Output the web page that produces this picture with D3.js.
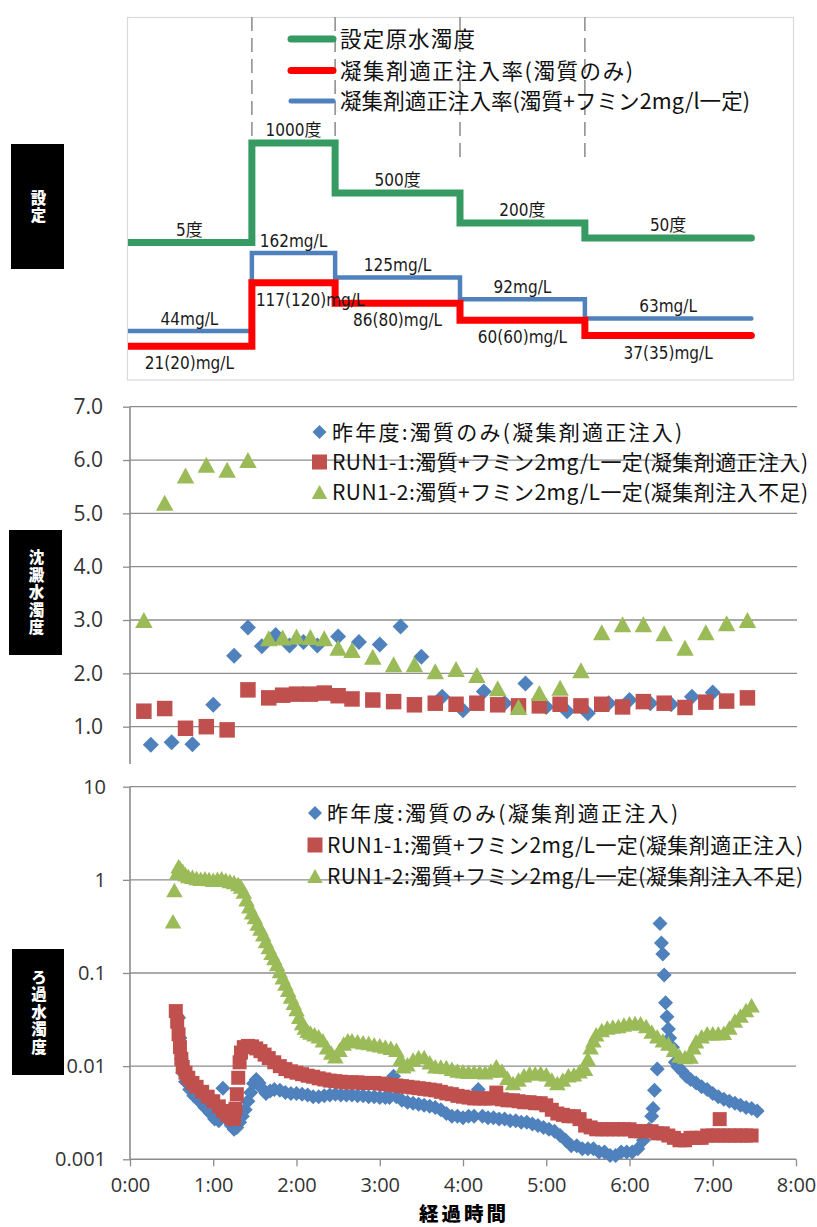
<!DOCTYPE html>
<html>
<head>
<meta charset="utf-8">
<script src="https://cdn.jsdelivr.net/npm/d3@7"></script>
<style>
  html, body { margin: 0; padding: 0; background: #fff; }
  svg { display: block; }
</style>
</head>
<body>
<svg id="chart" width="817" height="1227"></svg>
<script>
// ---------------- data ----------------
// operating schedule (hours) and the set values for each phase
const stepHours = [0, 1.5, 2.5, 4, 5.5, 7.5];
const rawTurbidity = [5, 1000, 500, 200, 50];          // 度
const doseWithHumic = [44, 162, 125, 92, 63];          // mg/L
const doseTurbOnly = [21, 117, 86, 60, 37];            // mg/L
const rawTurbLabels = ["5度", "1000度", "500度", "200度", "50度"];
const doseWithHumicLabels = ["44mg/L", "162mg/L", "125mg/L", "92mg/L", "63mg/L"];
const doseTurbOnlyLabels = ["21(20)mg/L", "117(120)mg/L", "86(80)mg/L", "60(60)mg/L", "37(35)mg/L"];
const phaseHours = [1.5, 2.5, 4, 5.5];
const scheduleLegend = ["設定原水濁度", "凝集剤適正注入率(濁質のみ)", "凝集剤適正注入率(濁質+フミン2mg/l一定)"];

const seriesNames = [
  "昨年度:濁質のみ(凝集剤適正注入)",
  "RUN1-1:濁質+フミン2mg/L一定(凝集剤適正注入)",
  "RUN1-2:濁質+フミン2mg/L一定(凝集剤注入不足)"
];

// settled water turbidity [elapsed minutes, 度]
const settledPrev = [[15,0.66],[30,0.71],[45,0.67],[60,1.41],[75,2.33],[85,2.86],[95,2.51],[105,2.72],[115,2.52],[125,2.59],[135,2.52],[150,2.69],[165,2.59],[180,2.54],[195,2.88],[210,2.31],[225,1.56],[240,1.31],[255,1.66],[270,1.44],[285,1.81],[300,1.37],[315,1.29],[330,1.25],[345,1.44],[360,1.5],[375,1.44],[390,1.42],[405,1.56],[420,1.64]];
const settledRun11 = [[10,1.29],[25,1.34],[40,0.97],[55,1.0],[70,0.94],[85,1.69],[100,1.54],[110,1.59],[120,1.61],[130,1.61],[140,1.63],[150,1.58],[160,1.52],[175,1.5],[190,1.47],[205,1.41],[220,1.44],[235,1.42],[250,1.44],[265,1.41],[280,1.39],[295,1.39],[310,1.42],[325,1.39],[340,1.42],[355,1.37],[370,1.47],[385,1.44],[400,1.36],[415,1.46],[430,1.48],[445,1.54]];
const settledRun12 = [[10,3.0],[25,5.2],[40,5.71],[55,5.91],[70,5.82],[85,6.0],[100,2.66],[110,2.67],[120,2.69],[130,2.68],[140,2.66],[150,2.48],[160,2.44],[175,2.31],[190,2.17],[205,2.17],[220,2.04],[235,2.08],[250,1.97],[265,1.72],[280,1.37],[295,1.63],[310,1.73],[325,2.06],[340,2.77],[355,2.92],[370,2.92],[385,2.75],[400,2.48],[415,2.77],[430,2.94],[445,3.0]];

// filtered water turbidity [elapsed minutes, 度]
const filteredPrev = [[35,0.033],[36,0.02],[37,0.012],[38,0.0085],[40,0.0068],[43,0.0056],[46,0.0048],[50,0.0042],[54,0.0036],[58,0.0031],[61,0.0027],[64,0.0026],[67,0.0058],[69,0.003],[71,0.0026],[73,0.0023],[75,0.0021],[77,0.0022],[79,0.0025],[81,0.0029],[83,0.0034],[85,0.0042],[87,0.0052],[89,0.0065],[91,0.0072],[93,0.0066],[95,0.0058],[98,0.0051],[101,0.0054],[104,0.0056],[108,0.0055],[112,0.0052],[116,0.0051],[120,0.0051],[124,0.005],[128,0.0049],[132,0.0047],[136,0.0047],[140,0.0048],[144,0.0049],[148,0.005],[152,0.0049],[156,0.0049],[160,0.0049],[164,0.0048],[168,0.0048],[172,0.0047],[176,0.0047],[180,0.0046],[184,0.0046],[187,0.0046],[190,0.0078],[192,0.0047],[196,0.0043],[200,0.0041],[204,0.004],[208,0.0039],[212,0.0038],[216,0.0037],[220,0.0036],[224,0.0034],[228,0.0031],[232,0.0029],[236,0.0029],[240,0.0028],[244,0.0029],[248,0.0029],[251,0.0056],[254,0.0029],[258,0.0028],[262,0.0028],[266,0.0027],[270,0.0027],[274,0.0026],[278,0.0026],[282,0.0025],[286,0.0025],[290,0.0024],[294,0.0023],[298,0.0022],[302,0.0021],[306,0.002],[310,0.0018],[314,0.0016],[318,0.0014],[322,0.0014],[326,0.0013],[330,0.0013],[334,0.0013],[338,0.0012],[342,0.0012],[346,0.0011],[350,0.0011],[354,0.0012],[358,0.0012],[362,0.0012],[366,0.0013],[370,0.0016],[374,0.0021],[376,0.0029],[377,0.0035],[378,0.0055],[380,0.0093],[382,0.34],[383,0.21],[384,0.16],[385,0.095],[386,0.048],[387,0.034],[388,0.025],[389,0.02],[391,0.016],[393,0.011],[395,0.0098],[398,0.0088],[401,0.0078],[404,0.0072],[408,0.0066],[412,0.006],[416,0.0056],[420,0.0051],[424,0.0047],[428,0.0044],[432,0.0042],[436,0.004],[440,0.0038],[444,0.0036],[448,0.0035],[452,0.0033]];
const filteredRun11 = [[33,0.039],[34,0.03],[35,0.022],[36,0.016],[37,0.012],[38,0.0098],[40,0.0085],[42,0.0075],[45,0.0066],[48,0.006],[52,0.0053],[56,0.0047],[60,0.0042],[64,0.0037],[67,0.0033],[70,0.003],[73,0.0028],[75,0.0027],[76,0.0035],[77,0.005],[78,0.0075],[79,0.011],[80,0.014],[82,0.016],[85,0.0165],[88,0.0163],[91,0.0155],[94,0.0145],[97,0.0133],[100,0.0122],[104,0.011],[108,0.01],[112,0.0093],[116,0.0088],[120,0.0085],[124,0.0082],[128,0.0079],[132,0.0077],[136,0.0074],[140,0.0072],[144,0.007],[148,0.0069],[152,0.0068],[156,0.0067],[160,0.0067],[164,0.0067],[168,0.0066],[172,0.0066],[176,0.0066],[180,0.0065],[184,0.0064],[188,0.0063],[192,0.0062],[196,0.0061],[200,0.006],[204,0.0059],[208,0.0058],[212,0.0057],[216,0.0056],[220,0.0055],[224,0.0053],[228,0.0051],[232,0.005],[236,0.0048],[240,0.0047],[244,0.0046],[248,0.0045],[252,0.0045],[256,0.0045],[260,0.0045],[264,0.0052],[268,0.0044],[272,0.0043],[276,0.0043],[280,0.0042],[284,0.0041],[288,0.0041],[292,0.004],[296,0.004],[300,0.0038],[304,0.0034],[308,0.0031],[312,0.003],[316,0.0029],[320,0.0029],[324,0.0027],[328,0.0023],[332,0.0022],[336,0.0021],[340,0.0021],[344,0.0021],[348,0.0021],[352,0.0021],[356,0.0021],[360,0.0021],[364,0.002],[368,0.002],[372,0.002],[376,0.002],[380,0.0019],[384,0.0019],[388,0.0018],[392,0.0017],[396,0.0016],[400,0.0016],[404,0.0017],[408,0.0017],[412,0.0017],[416,0.0018],[420,0.0018],[424,0.0018],[425,0.0027],[428,0.0018],[432,0.0018],[436,0.0018],[440,0.0018],[444,0.0018],[448,0.0018]];
const filteredRun12 = [[31,0.36],[32,0.78],[34,1.2],[35,1.4],[36,1.35],[38,1.25],[40,1.15],[42,1.1],[45,1.08],[48,1.05],[51,1.03],[54,1.04],[57,1.02],[60,1.0],[63,1.03],[66,1.04],[69,1.0],[72,0.97],[75,0.95],[78,0.9],[80,0.85],[82,0.75],[84,0.62],[86,0.52],[88,0.45],[90,0.4],[92,0.34],[94,0.3],[96,0.26],[98,0.22],[100,0.19],[102,0.165],[104,0.145],[106,0.125],[108,0.105],[110,0.09],[112,0.077],[114,0.066],[116,0.056],[118,0.048],[120,0.041],[122,0.034],[124,0.029],[126,0.026],[128,0.024],[130,0.023],[133,0.022],[136,0.021],[139,0.019],[142,0.016],[145,0.014],[148,0.0128],[151,0.015],[154,0.0175],[157,0.019],[160,0.019],[164,0.0185],[168,0.018],[172,0.0177],[176,0.0172],[180,0.0168],[184,0.0163],[188,0.0158],[192,0.015],[195,0.012],[197,0.01],[200,0.0105],[204,0.0118],[208,0.0125],[212,0.0125],[216,0.011],[220,0.01],[224,0.0099],[228,0.0098],[232,0.0094],[236,0.009],[240,0.0088],[244,0.0087],[248,0.0087],[252,0.0087],[256,0.0086],[260,0.009],[264,0.01],[268,0.009],[272,0.0075],[276,0.0066],[280,0.0072],[284,0.008],[288,0.0084],[292,0.0084],[296,0.0085],[300,0.0082],[304,0.0072],[308,0.0066],[312,0.0072],[316,0.008],[320,0.0082],[324,0.0088],[328,0.0094],[330,0.012],[332,0.016],[334,0.019],[336,0.022],[340,0.0245],[344,0.026],[348,0.0266],[352,0.027],[356,0.028],[360,0.0288],[364,0.029],[368,0.0288],[372,0.027],[376,0.0235],[380,0.021],[384,0.019],[388,0.0175],[392,0.015],[396,0.013],[400,0.0125],[404,0.0127],[406,0.016],[408,0.0185],[412,0.021],[416,0.0225],[420,0.0225],[424,0.0225],[428,0.0228],[432,0.026],[436,0.031],[440,0.035],[444,0.04],[448,0.045]];

// axis ticks
const settledTicks = [1, 2, 3, 4, 5, 6, 7];
const filteredTicks = [0.001, 0.01, 0.1, 1, 10];
const timeTicks = [0, 60, 120, 180, 240, 300, 360, 420, 480];

// panel captions
const panelCaptions = ["設定", "沈澱水濁度", "ろ過水濁度"];
const xTitle = "経過時間";

// ---------------- drawing ----------------
const svg = d3.select("#chart");
const CJK = "'Noto Sans CJK JP', 'Noto Sans', sans-serif";
const NUM = "'Open Sans', 'Liberation Sans', sans-serif";
const NARROW = "'Liberation Sans Narrow', 'DejaVu Sans Condensed', 'Noto Sans CJK JP', sans-serif";
const GRID = "#8c8c8c";
const COL = { blue: "#4F81BD", red: "#C0504D", green: "#9BBB59" };
const SCHED = { green: "#369A63", red: "#FF0000", blue: "#4F81BD" };

const fmtClock = m => `${Math.floor(m / 60)}:${String(m % 60).padStart(2, "0")}`;

function diamondPath(r) { return `M0,${-r}L${r},0L0,${r}L${-r},0Z`; }
function squarePath(s) { const h = s / 2; return `M${-h},${-h}H${h}V${h}H${-h}Z`; }
function trianglePath(w, h) { return `M0,${-h / 2}L${w / 2},${h / 2}L${-w / 2},${h / 2}Z`; }

// black caption boxes on the left, with upright vertical text
function caption(text, bx, by, bw, bh) {
  svg.append("rect").attr("x", bx).attr("y", by).attr("width", bw).attr("height", bh).attr("fill", "#000");
  svg.append("text")
    .attr("x", bx + bw / 2 + 1).attr("y", by + bh / 2 + 1)
    .attr("writing-mode", "vertical-rl")
    .attr("text-anchor", "middle")
    .attr("letter-spacing", 2)
    .attr("font-family", CJK).attr("font-weight", 900).attr("font-size", 15.5)
    .attr("fill", "#fff").text(text);
}

// ===== top: operating schedule =====
const xTop = d3.scaleLinear().domain([0, 8]).range([127, 793]);
const yRaw = d3.scaleLinear().domain([0, 1000]).range([243, 143]);
const yDose = d3.scaleLinear().domain([0, 162]).range([360, 253]);

svg.append("defs").append("clipPath").attr("id", "topClip")
  .append("rect").attr("x", 128).attr("y", 17).attr("width", 666).attr("height", 363);

svg.append("rect").attr("x", 127.5).attr("y", 17.5).attr("width", 666).attr("height", 362.5)
  .attr("fill", "none").attr("stroke", "#d9d9d9").attr("stroke-width", 1.2);

const schedG = svg.append("g").attr("clip-path", "url(#topClip)");

schedG.selectAll("line.phase").data(phaseHours).join("line").attr("class", "phase")
  .attr("x1", d => xTop(d)).attr("x2", d => xTop(d))
  .attr("y1", 17).attr("y2", 157)
  .attr("stroke", "#8a8a8a").attr("stroke-width", 1.5).attr("stroke-dasharray", "14,7");

function stepPoints(values) {
  return stepHours.map((h, i) => [h, values[Math.min(i, values.length - 1)]]);
}
function stepLine(yScale) {
  return d3.line().x(d => xTop(d[0])).y(d => yScale(d[1])).curve(d3.curveStepAfter);
}
const schedLines = [
  { vals: doseWithHumic, y: yDose, color: SCHED.blue, w: 4.5 },
  { vals: doseTurbOnly, y: yDose, color: SCHED.red, w: 7 },
  { vals: rawTurbidity, y: yRaw, color: SCHED.green, w: 7 }
];
schedLines.forEach(s => {
  schedG.append("path").datum(stepPoints(s.vals)).attr("d", stepLine(s.y))
    .attr("fill", "none").attr("stroke", s.color).attr("stroke-width", s.w)
    .attr("stroke-linecap", "round").attr("stroke-linejoin", "miter");
});

// value labels on each phase
function phaseLabels(labels, values, yScale, dy) {
  labels.forEach((txt, i) => {
    const x0 = xTop(stepHours[i]), x1 = xTop(stepHours[i + 1]);
    const t = svg.append("text").attr("font-family", NARROW).attr("font-size", 17)
      .attr("fill", "#1a1a1a")
      .attr("y", yScale(values[i]) + dy).text(txt);
    const w = t.node().getComputedTextLength();
    const left = Math.max((x0 + x1) / 2 - w / 2, x0 + 4);
    t.attr("x", left);
  });
}
phaseLabels(rawTurbLabels, rawTurbidity, yRaw, -7);
phaseLabels(doseWithHumicLabels, doseWithHumic, yDose, -6);
phaseLabels(doseTurbOnlyLabels, doseTurbOnly, yDose, 23);

// schedule legend
const schedLegend = [
  { color: SCHED.green, w: 7, y: 39, len: 135 },
  { color: SCHED.red, w: 7, y: 70.5, len: 293 },
  { color: SCHED.blue, w: 5, y: 101, len: 410 }
];
schedLegend.forEach((s, i) => {
  svg.append("line").attr("x1", 291).attr("x2", 333).attr("y1", s.y).attr("y2", s.y)
    .attr("stroke", s.color).attr("stroke-width", s.w).attr("stroke-linecap", "round");
  svg.append("text").attr("x", 340).attr("y", s.y + 8)
    .attr("font-family", CJK).attr("font-size", 21.5).attr("fill", "#111")
    .attr("textLength", s.len).attr("lengthAdjust", "spacing")
    .text(scheduleLegend[i]);
});

caption(panelCaptions[0], 11, 144, 53, 125);

// ===== shared time scale =====
const x = d3.scaleLinear().domain([0, 480]).range([130, 796]);

const markerDefs = [
  { color: COL.blue, big: diamondPath(8), small: diamondPath(7.5), leg: diamondPath(7) },
  { color: COL.red, big: squarePath(15.5), small: squarePath(14), leg: squarePath(15) },
  { color: COL.green, big: trianglePath(17.5, 16), small: trianglePath(16.5, 14.5), leg: trianglePath(15.5, 14) }
];

function drawSeries(g, data, yScale, def, key) {
  g.append("g").selectAll("path").data(data).join("path")
    .attr("d", def[key])
    .attr("transform", d => `translate(${x(d[0])},${yScale(d[1])})`)
    .attr("fill", def.color);
}

function legend(g, lx, tx, ys, widths) {
  seriesNames.forEach((name, i) => {
    g.append("path").attr("d", markerDefs[i].leg)
      .attr("transform", `translate(${lx},${ys[i]})`).attr("fill", markerDefs[i].color);
    g.append("text").attr("x", tx).attr("y", ys[i] + 7.5)
      .attr("font-family", CJK).attr("font-size", 21).attr("fill", "#111")
      .attr("textLength", widths[i]).attr("lengthAdjust", "spacing")
      .text(name);
  });
}

function styleAxis(ax, fontSize) {
  ax.select(".domain").remove();
  ax.selectAll(".tick line").attr("stroke", GRID).attr("stroke-width", 1.3);
  ax.selectAll(".tick text").attr("font-family", NUM).attr("font-size", fontSize).attr("fill", "#333");
}

// ===== middle: settled water =====
const ySet = d3.scaleLinear().domain([0.3, 7]).range([764, 406.7]);
const mid = svg.append("g");

mid.append("g").selectAll("line").data(settledTicks).join("line")
  .attr("x1", 130).attr("x2", 797).attr("y1", d => ySet(d)).attr("y2", d => ySet(d))
  .attr("stroke", GRID).attr("stroke-width", 1.3);
mid.append("line").attr("x1", 130).attr("x2", 130).attr("y1", ySet(7)).attr("y2", ySet(0.3))
  .attr("stroke", GRID).attr("stroke-width", 1.6);

const midAxis = mid.append("g").attr("transform", "translate(130,0)")
  .call(d3.axisLeft(ySet).tickValues(settledTicks).tickSize(7).tickPadding(20).tickFormat(d3.format(".1f")));
styleAxis(midAxis, 21);

drawSeries(mid, settledPrev, ySet, markerDefs[0], "big");
drawSeries(mid, settledRun11, ySet, markerDefs[1], "big");
drawSeries(mid, settledRun12, ySet, markerDefs[2], "big");

legend(mid, 319.5, 332, [432, 462, 492], [350, 476, 476]);
caption(panelCaptions[1], 9, 530, 53, 125);

// ===== bottom: filtered water (log scale) =====
const yFilt = d3.scaleLog().domain([0.001, 10]).range([1159.3, 786.7]);
const bot = svg.append("g");

bot.append("g").selectAll("line").data(filteredTicks.filter(d => d > 0.001)).join("line")
  .attr("x1", 130).attr("x2", 796).attr("y1", d => yFilt(d)).attr("y2", d => yFilt(d))
  .attr("stroke", GRID).attr("stroke-width", 1.3);
bot.append("line").attr("x1", 130).attr("x2", 130).attr("y1", yFilt(10)).attr("y2", yFilt(0.001))
  .attr("stroke", GRID).attr("stroke-width", 1.6);
bot.append("line").attr("x1", 130).attr("x2", 796).attr("y1", yFilt(0.001)).attr("y2", yFilt(0.001))
  .attr("stroke", GRID).attr("stroke-width", 1.6);

const botY = bot.append("g").attr("transform", "translate(130,0)")
  .call(d3.axisLeft(yFilt).tickValues(filteredTicks).tickSize(7).tickPadding(17).tickFormat(d => String(d)));
styleAxis(botY, 20);

const botX = bot.append("g").attr("transform", `translate(0,${yFilt(0.001)})`)
  .call(d3.axisBottom(x).tickValues(timeTicks).tickSize(7).tickPadding(12).tickFormat(fmtClock));
styleAxis(botX, 20);

drawSeries(bot, filteredPrev, yFilt, markerDefs[0], "small");
drawSeries(bot, filteredRun11, yFilt, markerDefs[1], "small");
drawSeries(bot, filteredRun12, yFilt, markerDefs[2], "small");

legend(bot, 315, 327, [813, 845, 876], [351, 476, 476]);
caption(panelCaptions[2], 12, 949, 52, 126);

svg.append("text").attr("x", 464).attr("y", 1221)
  .attr("text-anchor", "middle").attr("font-family", CJK).attr("font-weight", 900)
  .attr("font-size", 19.5).attr("letter-spacing", 3).attr("fill", "#000").text(xTitle);
</script>
</body>
</html>
